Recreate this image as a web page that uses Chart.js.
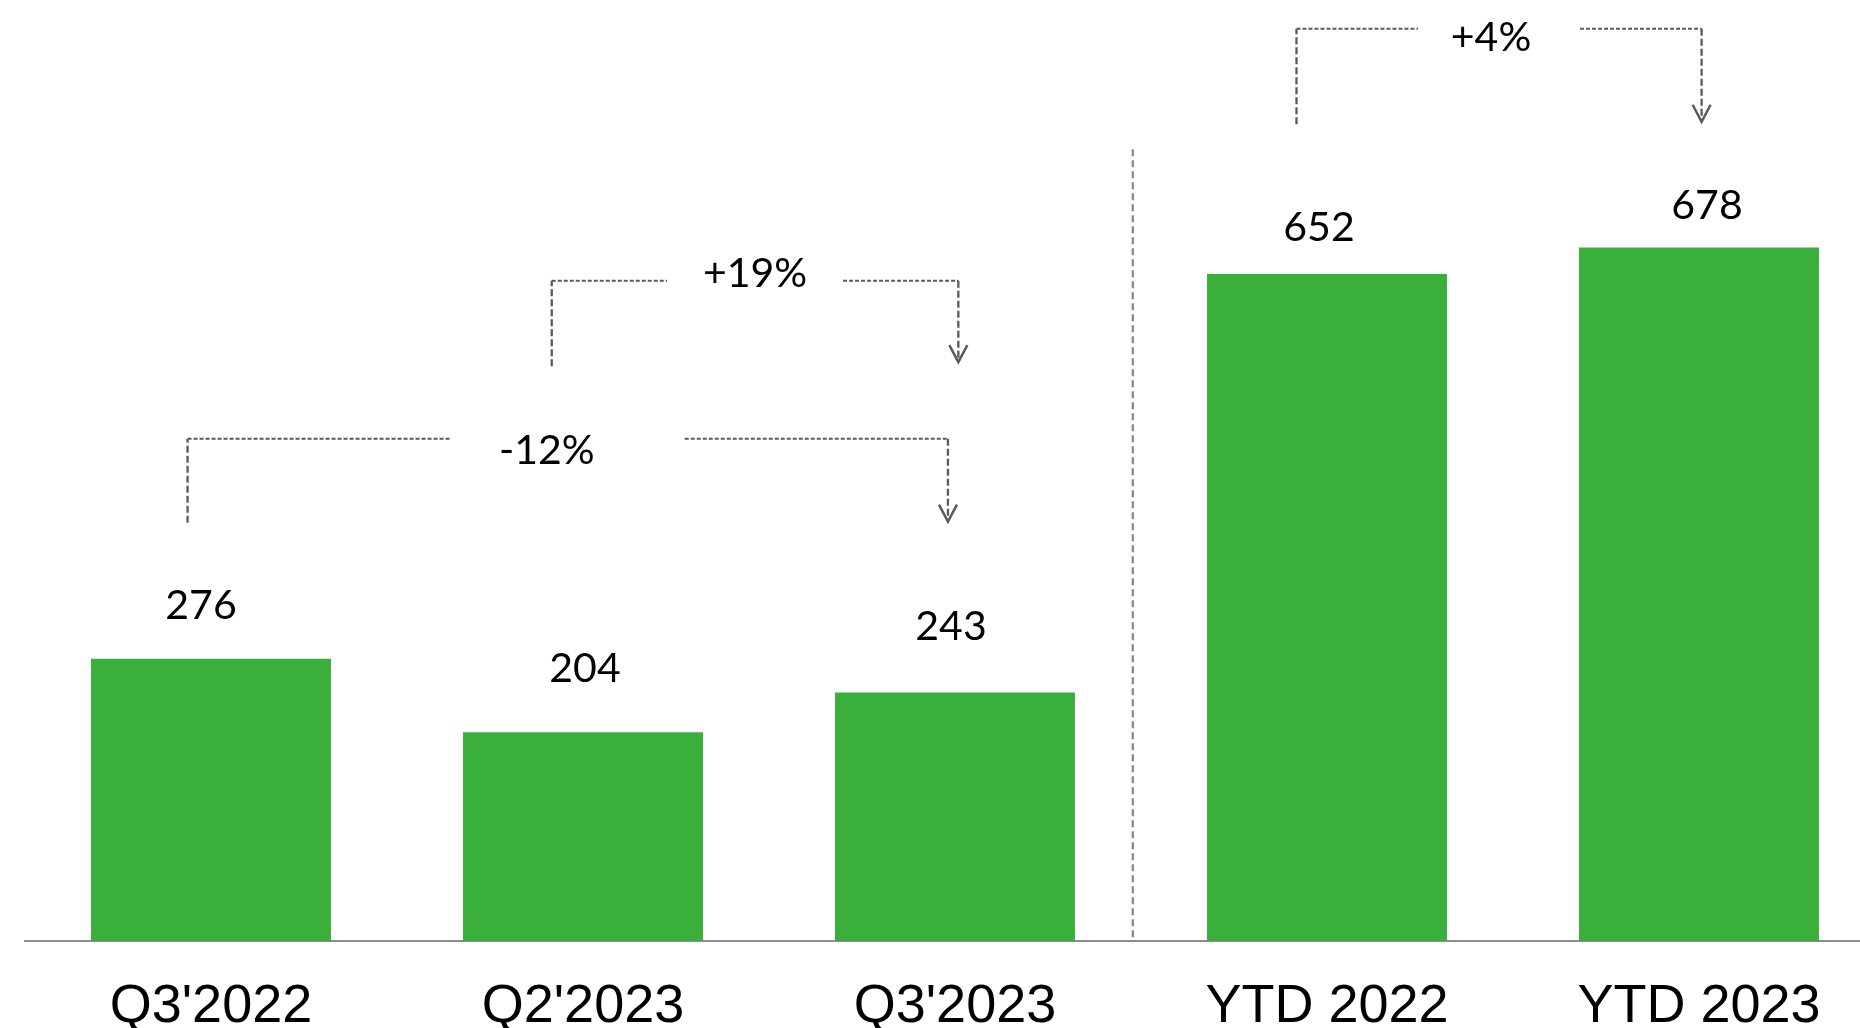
<!DOCTYPE html>
<html>
<head>
<meta charset="utf-8">
<script src="https://cdn.jsdelivr.net/npm/chart.js@4/dist/chart.umd.min.js"></script>
<style>
  html, body { margin: 0; padding: 0; background: #fff; overflow: hidden; }
  #wrap { width: 1890px; height: 1028px; }
</style>
</head>
<body>
<div id="wrap"><canvas id="bars" width="1890" height="1028"></canvas></div>
<script>
// data
var categories = ["Q3'2022", "Q2'2023", "Q3'2023", "YTD 2022", "YTD 2023"];
var values = [276, 204, 243, 652, 678];
var changeLabels = ['-12%', '+19%', '+4%'];

// value label nudges (px) relative to bar top centre
var labelDx = [-10, 2, -4, -8, 8];
var labelDy = [-53, -64, -66, -46, -42];

// bracket layout: x in category units, y in value units, dx/dy in px
var brackets = [
    { x1: -0.063, x2: 1.981, yStart: 409, yTop: 491, yEnd: 410, gap: 117, dx: -21, dy: 12 },
    { x1: 0.916, x2: 2.009, yStart: 562, yTop: 645.5, yEnd: 566, gap: 88, dx: 0, dy: -7 },
    { x1: 2.918, x2: 4.007, yStart: 798.5, yTop: 892, yEnd: 801, gap: 81, dx: -8, dy: 9 }
];
var separatorX = 2.478;
var separatorTop = 774;

var green = '#3baf3b';
var labelFont = '41px Lato, "Open Sans", sans-serif';

var annotations = {
    id: 'annotations',
    afterDatasetsDraw: function (chart) {
        var ctx = chart.ctx;
        var xs = chart.scales.x;
        var ys = chart.scales.y;
        var meta = chart.getDatasetMeta(0);

        ctx.save();
        // value labels above bars
        ctx.fillStyle = '#000';
        ctx.font = labelFont;
        ctx.textAlign = 'center';
        ctx.textBaseline = 'middle';
        meta.data.forEach(function (bar, i) {
            ctx.fillText(values[i], bar.x + labelDx[i], bar.y + labelDy[i]);
        });

        // dashed separator between quarters and YTD
        var sx = xs.getPixelForValue(separatorX);
        ctx.strokeStyle = '#8a8a8a';
        ctx.lineWidth = 2.3;
        ctx.setLineDash([7, 4]);
        ctx.beginPath();
        ctx.moveTo(sx, ys.getPixelForValue(separatorTop));
        ctx.lineTo(sx, ys.getPixelForValue(0));
        ctx.stroke();

        // change brackets
        brackets.forEach(function (b, i) {
            var x1 = xs.getPixelForValue(b.x1);
            var x2 = xs.getPixelForValue(b.x2);
            var yTop = ys.getPixelForValue(b.yTop);
            var yStart = ys.getPixelForValue(b.yStart);
            var yEnd = ys.getPixelForValue(b.yEnd);
            var mid = (x1 + x2) / 2;

            ctx.strokeStyle = '#5a5a5a';
            ctx.lineWidth = 2;
            ctx.setLineDash([4, 2]);
            ctx.beginPath();
            ctx.moveTo(x1, yTop);
            ctx.lineTo(mid - b.gap, yTop);
            ctx.moveTo(mid + b.gap, yTop);
            ctx.lineTo(x2, yTop);
            ctx.stroke();

            ctx.lineWidth = 2.3;
            ctx.setLineDash([7, 3]);
            ctx.beginPath();
            ctx.moveTo(x1, yStart);
            ctx.lineTo(x1, yTop);
            ctx.moveTo(x2, yTop);
            ctx.lineTo(x2, yEnd);
            ctx.stroke();

            ctx.lineWidth = 2.5;
            ctx.setLineDash([]);
            ctx.beginPath();
            ctx.moveTo(x2 - 9, yEnd - 17);
            ctx.lineTo(x2, yEnd);
            ctx.lineTo(x2 + 9, yEnd - 17);
            ctx.stroke();

            ctx.fillStyle = '#000';
            ctx.font = labelFont;
            ctx.fillText(changeLabels[i], mid + b.dx, yTop + b.dy);
        });
        ctx.restore();
    }
};

new Chart(document.getElementById('bars'), {
    type: 'bar',
    data: {
        labels: categories,
        datasets: [{
            data: values,
            backgroundColor: green,
            borderWidth: 0,
            barPercentage: 1,
            categoryPercentage: 0.645
        }]
    },
    options: {
        responsive: false,
        animation: false,
        layout: { padding: { left: 25, right: 5, top: 0, bottom: 0 } },
        plugins: {
            legend: { display: false },
            tooltip: { enabled: false }
        },
        scales: {
            x: {
                grid: { display: false, drawTicks: false },
                border: { display: true, color: '#8c8c8c', width: 2 },
                ticks: {
                    color: '#000',
                    padding: 34,
                    font: { family: '"Liberation Sans", Arial, sans-serif', size: 54 }
                },
                afterFit: function (scale) { scale.height = 87; }
            },
            y: {
                display: false,
                min: 0,
                max: 920
            }
        }
    },
    plugins: [annotations]
});
</script>
</body>
</html>
